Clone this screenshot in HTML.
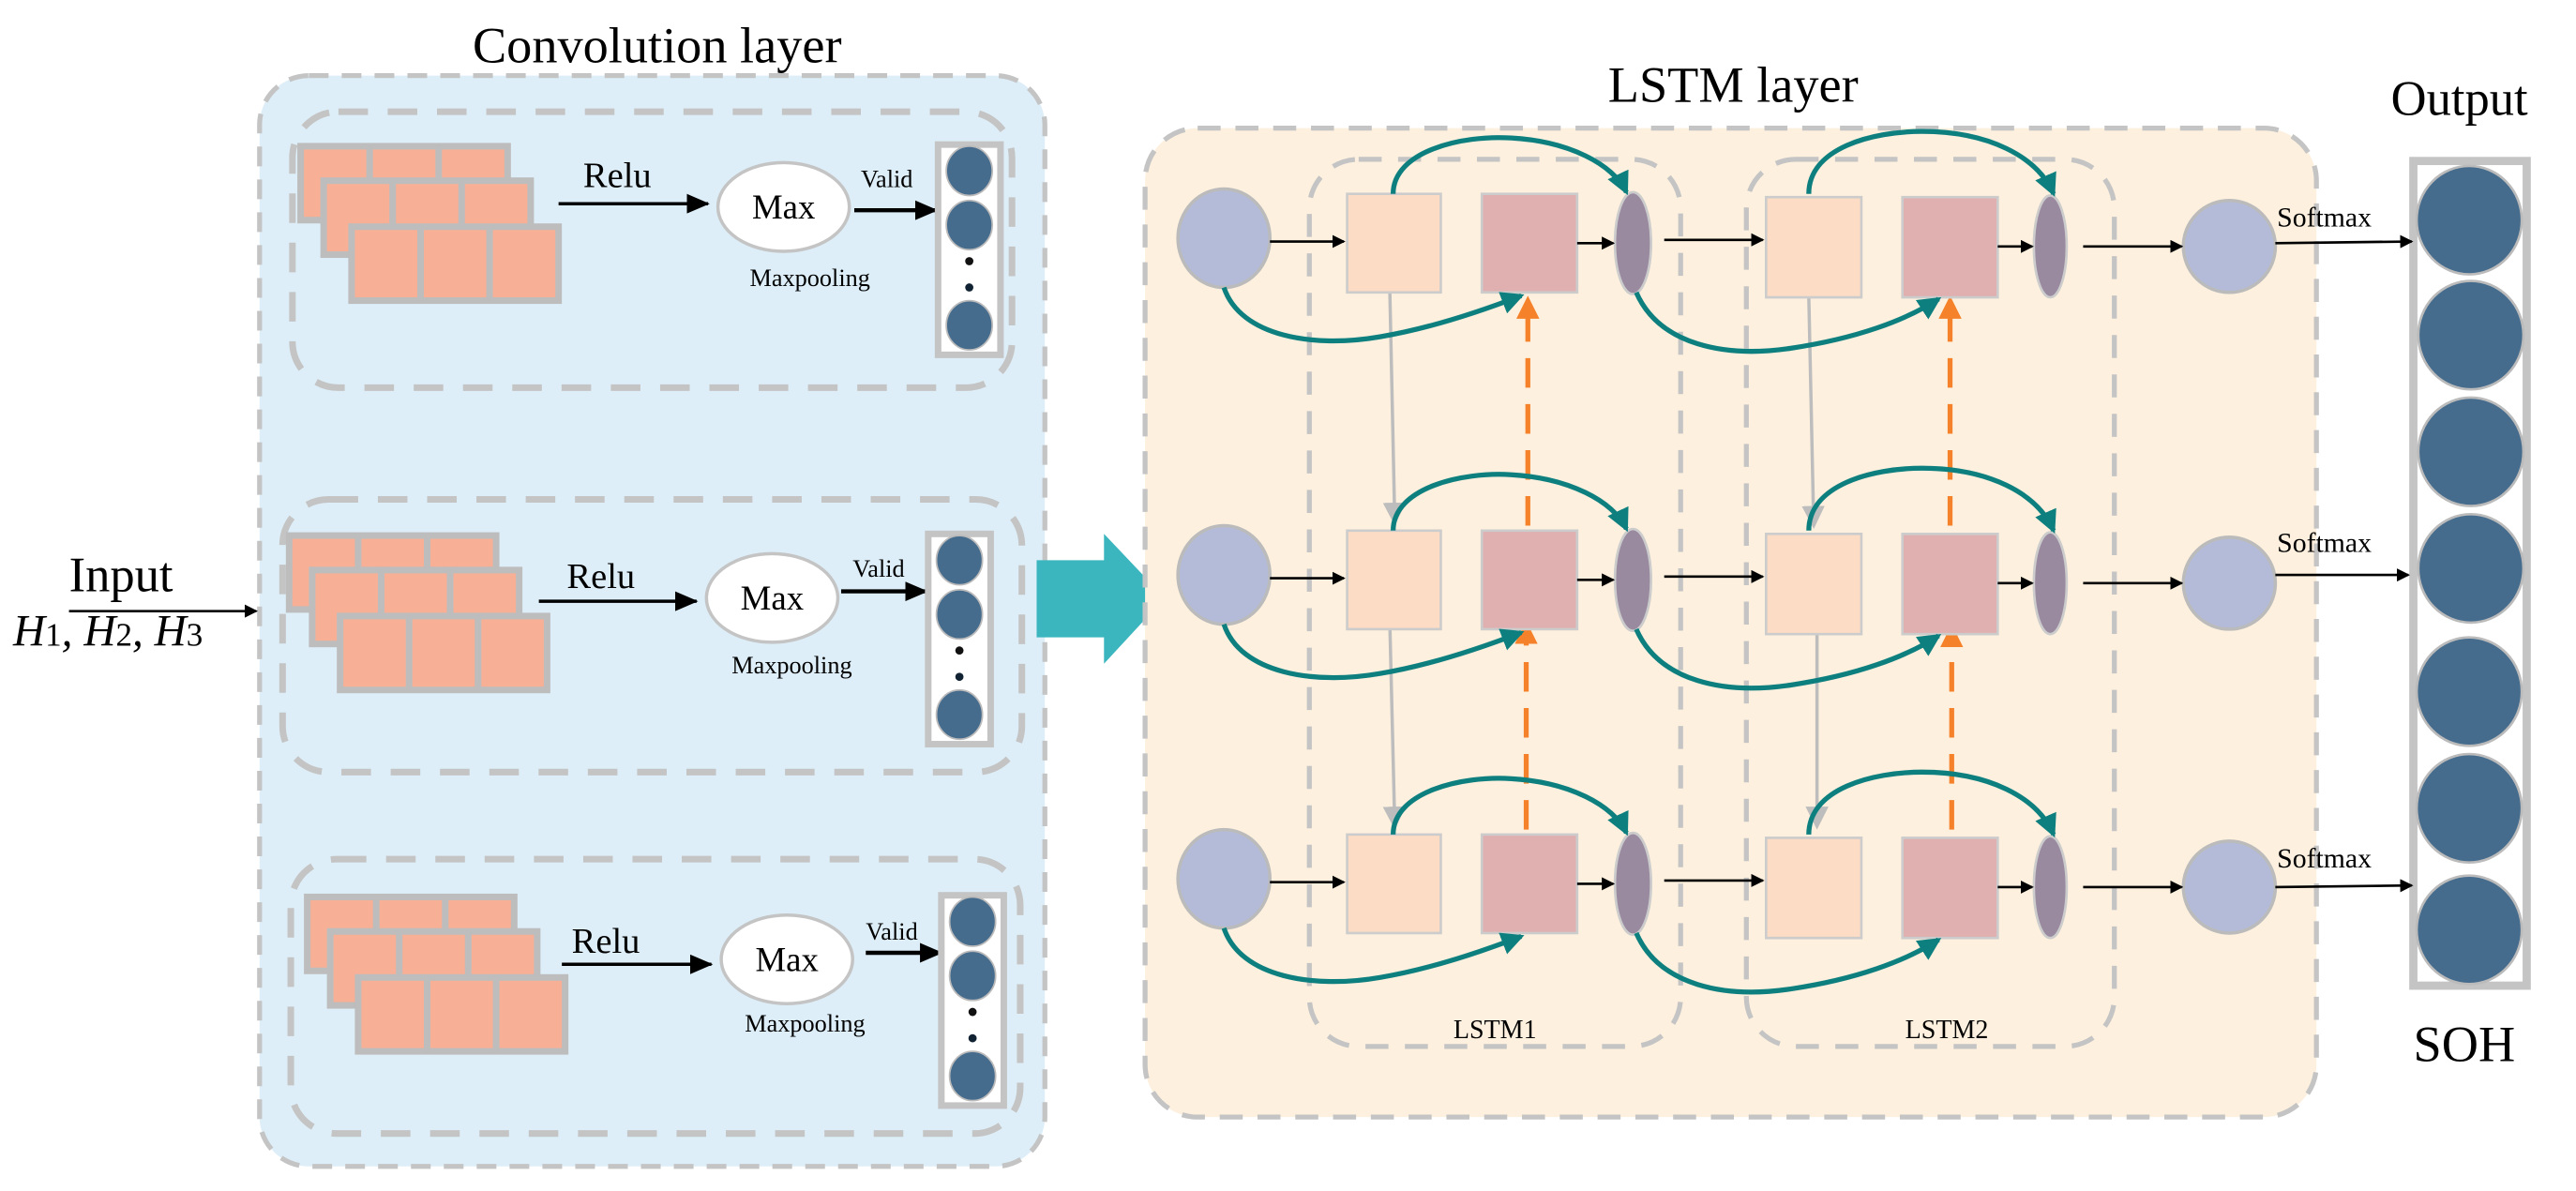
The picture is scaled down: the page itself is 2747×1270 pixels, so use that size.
<!DOCTYPE html>
<html><head><meta charset="utf-8"><style>
html,body{margin:0;padding:0;background:#fff;}
svg{display:block;font-family:"Liberation Serif",serif;}
svg text{font-family:"Liberation Serif",serif;fill:#000;}
</style></head><body>
<svg width="2747" height="1270" viewBox="0 0 1568 725" preserveAspectRatio="none" xmlns="http://www.w3.org/2000/svg" font-family="Liberation Serif, serif">
<defs>
<marker id="ab" markerWidth="8" markerHeight="8" refX="7" refY="4" orient="auto" markerUnits="userSpaceOnUse"><path d="M0,0 L8,4 L0,8 z" fill="#000"/></marker>
<marker id="ab2" markerWidth="14" markerHeight="12" refX="13" refY="6" orient="auto" markerUnits="userSpaceOnUse"><path d="M0,0 L14,6 L0,12 z" fill="#000"/></marker>
<marker id="at" markerWidth="14" markerHeight="14" refX="12" refY="7" orient="auto" markerUnits="userSpaceOnUse"><path d="M0,0 L14,7 L0,14 z" fill="#0e7f7f"/></marker>
<marker id="ag" markerWidth="14" markerHeight="14" refX="12" refY="7" orient="auto" markerUnits="userSpaceOnUse"><path d="M0,0 L14,7 L0,14 z" fill="#bdbdbd"/></marker>
<marker id="ao" markerWidth="14" markerHeight="14" refX="12" refY="7" orient="auto" markerUnits="userSpaceOnUse"><path d="M0,0 L14,7 L0,14 z" fill="#f5822a"/></marker>
<g id="grp">
<rect x="0" y="0" width="126" height="45" fill="#f7b096" stroke="#bdbdbd" stroke-width="4"/>
<line x1="42" y1="0" x2="42" y2="45" stroke="#bdbdbd" stroke-width="4"/>
<line x1="84" y1="0" x2="84" y2="45" stroke="#bdbdbd" stroke-width="4"/>
</g>
<g id="stack">
<use href="#grp" x="0" y="0"/><use href="#grp" x="14" y="21"/><use href="#grp" x="31" y="49"/>
</g>
<g id="col">
<rect x="0" y="0" width="38" height="128" fill="#fff" stroke="#c4c4c4" stroke-width="4"/>
<ellipse cx="19" cy="16" rx="14" ry="15" fill="#456b8d" stroke="#bbb"/>
<ellipse cx="19" cy="49" rx="14" ry="15" fill="#456b8d" stroke="#bbb"/>
<circle cx="19" cy="71" r="2.5" fill="#111"/>
<circle cx="19" cy="87" r="2.5" fill="#123"/>
<ellipse cx="19" cy="110" rx="14" ry="15" fill="#456b8d" stroke="#bbb"/>
</g>
</defs>

<text x="400" y="38" font-size="31" text-anchor="middle" font-family="Liberation Serif, serif">Convolution layer</text>
<rect x="158" y="46" width="478" height="664" rx="30" fill="#ddeef8" stroke="#c4c4c4" stroke-width="3" stroke-dasharray="12,8"/>
<rect x="178" y="68" width="438" height="168" rx="28" fill="none" stroke="#c4c4c4" stroke-width="4" stroke-dasharray="18,12"/>
<rect x="172" y="304" width="450" height="166" rx="28" fill="none" stroke="#c4c4c4" stroke-width="4" stroke-dasharray="18,12"/>
<rect x="177" y="523" width="444" height="167" rx="28" fill="none" stroke="#c4c4c4" stroke-width="4" stroke-dasharray="18,12"/>

<use href="#stack" x="183" y="89"/>
<line x1="340" y1="124" x2="431" y2="124" stroke="#000" stroke-width="2" marker-end="url(#ab2)"/>
<text x="355" y="114" font-size="22" font-family="Liberation Serif, serif">Relu</text>
<ellipse cx="477" cy="126" rx="40" ry="27" fill="#fff" stroke="#c4c4c4" stroke-width="2"/>
<text x="477" y="133" font-size="21" text-anchor="middle" font-family="Liberation Serif, serif">Max</text>
<text x="493" y="174" font-size="15" text-anchor="middle" font-family="Liberation Serif, serif">Maxpooling</text>
<line x1="520" y1="128" x2="570" y2="128" stroke="#000" stroke-width="2.5" marker-end="url(#ab2)"/>
<text x="524" y="114" font-size="15" font-family="Liberation Serif, serif">Valid</text>
<use href="#col" x="571" y="88"/>

<use href="#stack" x="176" y="326"/>
<line x1="328" y1="366" x2="424" y2="366" stroke="#000" stroke-width="2" marker-end="url(#ab2)"/>
<text x="345" y="358" font-size="22" font-family="Liberation Serif, serif">Relu</text>
<ellipse cx="470" cy="364" rx="40" ry="27" fill="#fff" stroke="#c4c4c4" stroke-width="2"/>
<text x="470" y="371" font-size="21" text-anchor="middle" font-family="Liberation Serif, serif">Max</text>
<text x="482" y="410" font-size="15" text-anchor="middle" font-family="Liberation Serif, serif">Maxpooling</text>
<line x1="512" y1="360" x2="564" y2="360" stroke="#000" stroke-width="2.5" marker-end="url(#ab2)"/>
<text x="519" y="351" font-size="15" font-family="Liberation Serif, serif">Valid</text>
<use href="#col" x="565" y="325"/>

<use href="#stack" x="187" y="546"/>
<line x1="342" y1="587" x2="433" y2="587" stroke="#000" stroke-width="2" marker-end="url(#ab2)"/>
<text x="348" y="580" font-size="22" font-family="Liberation Serif, serif">Relu</text>
<ellipse cx="479" cy="584" rx="40" ry="27" fill="#fff" stroke="#c4c4c4" stroke-width="2"/>
<text x="479" y="591" font-size="21" text-anchor="middle" font-family="Liberation Serif, serif">Max</text>
<text x="490" y="628" font-size="15" text-anchor="middle" font-family="Liberation Serif, serif">Maxpooling</text>
<line x1="527" y1="580" x2="573" y2="580" stroke="#000" stroke-width="2.5" marker-end="url(#ab2)"/>
<text x="527" y="572" font-size="15" font-family="Liberation Serif, serif">Valid</text>
<use href="#col" x="573" y="545"/>

<text x="42" y="360" font-size="30" font-family="Liberation Serif, serif">Input</text>
<line x1="42" y1="372" x2="156" y2="372" stroke="#000" stroke-width="1.5" marker-end="url(#ab)"/>
<text x="8" y="393" font-size="27" font-style="italic" font-family="Liberation Serif, serif">H<tspan font-style="normal" font-size="20">1</tspan>, H<tspan font-style="normal" font-size="20">2</tspan>, H<tspan font-style="normal" font-size="20">3</tspan></text>

<path d="M631,341 L672,341 L672,325 L709,364 L672,404 L672,388 L631,388 z" fill="#3bb6bf"/>

<text x="1055" y="62" font-size="31" text-anchor="middle" font-family="Liberation Serif, serif">LSTM layer</text>
<rect x="697" y="78" width="713" height="602" rx="32" fill="#fdf0de" stroke="#c4c4c4" stroke-width="3" stroke-dasharray="14,9"/>
<rect x="797" y="97" width="226" height="540" rx="30" fill="none" stroke="#c4c4c4" stroke-width="3" stroke-dasharray="14,10"/>
<rect x="1063" y="97" width="224" height="540" rx="30" fill="none" stroke="#c4c4c4" stroke-width="3" stroke-dasharray="14,10"/>
<text x="910" y="632" font-size="16" text-anchor="middle" font-family="Liberation Serif, serif">LSTM1</text>
<text x="1185" y="632" font-size="16" text-anchor="middle" font-family="Liberation Serif, serif">LSTM2</text>

<line x1="846" y1="178" x2="849" y2="318" stroke="#bdbdbd" stroke-width="2" marker-end="url(#ag)"/>
<line x1="846" y1="380" x2="849" y2="503" stroke="#bdbdbd" stroke-width="2" marker-end="url(#ag)"/>
<line x1="1101" y1="180" x2="1104" y2="320" stroke="#bdbdbd" stroke-width="2" marker-end="url(#ag)"/>
<line x1="1106" y1="380" x2="1106" y2="503" stroke="#bdbdbd" stroke-width="2" marker-end="url(#ag)"/>
<line x1="930" y1="320" x2="930" y2="182" stroke="#f5822a" stroke-width="3" stroke-dasharray="18,10" marker-end="url(#ao)"/>
<line x1="929" y1="505" x2="929" y2="380" stroke="#f5822a" stroke-width="3" stroke-dasharray="18,10" marker-end="url(#ao)"/>
<line x1="1187" y1="320" x2="1187" y2="182" stroke="#f5822a" stroke-width="3" stroke-dasharray="18,10" marker-end="url(#ao)"/>
<line x1="1188" y1="505" x2="1188" y2="382" stroke="#f5822a" stroke-width="3" stroke-dasharray="18,10" marker-end="url(#ao)"/>

<g id="row1">
<ellipse cx="745" cy="145" rx="28" ry="30" fill="#b3bbd9" stroke="#bbb" stroke-width="2"/>
<rect x="820" y="118" width="57" height="60" fill="#fcdcc4" stroke="#ccc" stroke-width="1.5"/>
<rect x="902" y="118" width="58" height="60" fill="#e0afb0" stroke="#ccc" stroke-width="1.5"/>
<ellipse cx="994" cy="148" rx="11" ry="31" fill="#9a8aa0" stroke="#ccc" stroke-width="1.5"/>
<rect x="1075" y="120" width="58" height="61" fill="#fcdcc4" stroke="#ccc" stroke-width="1.5"/>
<rect x="1158" y="120" width="58" height="61" fill="#e0afb0" stroke="#ccc" stroke-width="1.5"/>
<ellipse cx="1248" cy="150" rx="10" ry="31" fill="#9a8aa0" stroke="#ccc" stroke-width="1.5"/>
<ellipse cx="1357" cy="150" rx="28" ry="28" fill="#b3bbd9" stroke="#bbb" stroke-width="2"/>
<line x1="773" y1="147" x2="818" y2="147" stroke="#000" stroke-width="1.5" marker-end="url(#ab)"/>
<line x1="960" y1="148" x2="982" y2="148" stroke="#000" stroke-width="1.5" marker-end="url(#ab)"/>
<line x1="1013" y1="146" x2="1073" y2="146" stroke="#000" stroke-width="1.5" marker-end="url(#ab)"/>
<line x1="1216" y1="150" x2="1237" y2="150" stroke="#000" stroke-width="1.5" marker-end="url(#ab)"/>
<line x1="1268" y1="150" x2="1328" y2="150" stroke="#000" stroke-width="1.5" marker-end="url(#ab)"/>
<path d="M848,118 C848,92 890,82 920,84 C955,86 982,100 990,117" fill="none" stroke="#0e7f7f" stroke-width="3" marker-end="url(#at)"/>
<path d="M745,175 C755,205 800,212 840,205 C870,200 900,190 926,180" fill="none" stroke="#0e7f7f" stroke-width="3" marker-end="url(#at)"/>
<path d="M1101,118 C1101,90 1140,80 1170,80 C1210,80 1240,95 1250,118" fill="none" stroke="#0e7f7f" stroke-width="3" marker-end="url(#at)"/>
<path d="M996,178 C1010,210 1050,218 1090,212 C1130,206 1160,195 1180,182" fill="none" stroke="#0e7f7f" stroke-width="3" marker-end="url(#at)"/>
</g>
<use href="#row1" x="0" y="205"/>
<use href="#row1" x="0" y="390"/>

<text x="1497" y="70" font-size="30" text-anchor="middle" font-family="Liberation Serif, serif">Output</text>
<rect x="1469" y="98" width="69" height="502" fill="#fff" stroke="#c4c4c4" stroke-width="5"/>
<g fill="#456b8d" stroke="#bbb" stroke-width="1.5">
<ellipse cx="1503" cy="134" rx="32" ry="33"/>
<ellipse cx="1504" cy="204" rx="32" ry="33"/>
<ellipse cx="1504" cy="275" rx="32" ry="33"/>
<ellipse cx="1504" cy="346" rx="32" ry="33"/>
<ellipse cx="1503" cy="421" rx="32" ry="33"/>
<ellipse cx="1503" cy="492" rx="32" ry="33"/>
<ellipse cx="1503" cy="566" rx="32" ry="33"/>
</g>
<text x="1386" y="138" font-size="17" font-family="Liberation Serif, serif">Softmax</text>
<text x="1386" y="336" font-size="17" font-family="Liberation Serif, serif">Softmax</text>
<text x="1386" y="528" font-size="17" font-family="Liberation Serif, serif">Softmax</text>
<line x1="1385" y1="148" x2="1468" y2="147" stroke="#000" stroke-width="1.5" marker-end="url(#ab)"/>
<line x1="1385" y1="350" x2="1466" y2="350" stroke="#000" stroke-width="1.5" marker-end="url(#ab)"/>
<line x1="1385" y1="540" x2="1468" y2="539" stroke="#000" stroke-width="1.5" marker-end="url(#ab)"/>
<text x="1500" y="646" font-size="31" text-anchor="middle" font-family="Liberation Serif, serif">SOH</text>
</svg>
</body></html>
